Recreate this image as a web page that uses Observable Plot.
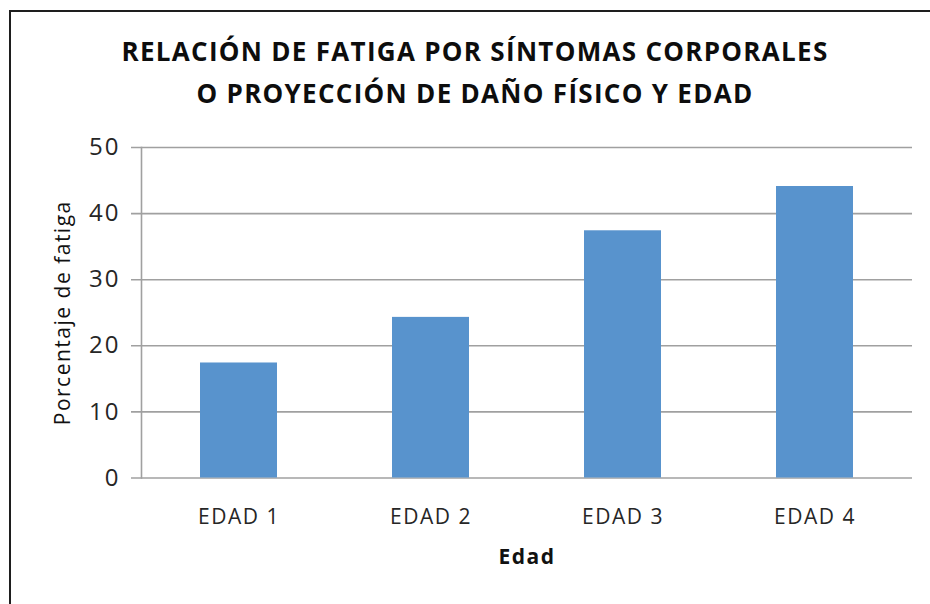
<!DOCTYPE html>
<html>
<head>
<meta charset="utf-8">
<script src="https://cdn.jsdelivr.net/npm/d3@7"></script>
<script src="https://cdn.jsdelivr.net/npm/@observablehq/plot@0.6"></script>
<style>
  html, body { margin: 0; padding: 0; background: #fff; }
  #wrap { position: relative; width: 930px; height: 604px; overflow: hidden; background: #fff; }
  #border { position: absolute; left: 9px; top: 10px; width: 1000px; height: 1000px;
            border-top: 2px solid #1e1e1e; border-left: 2px solid #1e1e1e; pointer-events: none; }
  #title { position: relative; box-sizing: border-box; width: 930px; height: 130px;
           padding-top: 30px; padding-left: 20px; text-align: center;
           font-family: "Open Sans", sans-serif; font-weight: bold; font-size: 26px;
           line-height: 42px; letter-spacing: 1.3px; color: #0d0d0d; }
  #chart svg { display: block; }
  #chart g[aria-label="y-axis tick label"] text { letter-spacing: 2px; }
</style>
</head>
<body>
<div id="wrap">
  <div id="title">RELACIÓN DE FATIGA POR SÍNTOMAS CORPORALES<br>O PROYECCIÓN DE DAÑO FÍSICO Y EDAD</div>
  <div id="chart"></div>
  <div id="border"></div>
</div>
<script>
const categories = ["EDAD 1", "EDAD 2", "EDAD 3", "EDAD 4"];
const values = [17.4, 24.3, 37.4, 44.1];
const yTicks = [0, 10, 20, 30, 40, 50];
const xTitle = "Edad";
const yTitle = "Porcentaje de fatiga";

const data = categories.map((c, i) => ({cat: c, val: values[i]}));

const chart = Plot.plot({
  width: 930,
  height: 474,
  marginLeft: 141,
  marginRight: 18,
  marginTop: 17,
  marginBottom: 126.5,
  style: {fontFamily: "Open Sans, sans-serif", color: "#262626", background: "white", letterSpacing: "1.5px", overflow: "visible"},
  x: {domain: categories, paddingInner: 0.6, paddingOuter: 0.3, label: null},
  y: {domain: [0, 50], ticks: yTicks, label: null},
  marks: [
    Plot.ruleY(yTicks, {stroke: "#a0a0a0", strokeWidth: 1.6, insetLeft: -10}),
    Plot.frame({anchor: "left", stroke: "#a0a0a0", strokeWidth: 1.6}),
    Plot.barY(data, {x: "cat", y: "val", fill: "#5893cd"}),
    Plot.axisY(yTicks, {tickSize: 0, tickPadding: 21, fontSize: 24, label: null}),
    Plot.axisX({tickSize: 0, tickPadding: 31, fontSize: 21, label: null}),
    Plot.text([xTitle], {text: d => d, frameAnchor: "bottom", dy: 79.5, lineAnchor: "middle", textAnchor: "middle", fontWeight: "bold", fontSize: 21, fill: "#111"}),
    Plot.text([yTitle], {text: d => d, frameAnchor: "left", dx: -78, rotate: -90, textAnchor: "middle", lineAnchor: "middle", fontSize: 21, fill: "#111"})
  ]
});
document.getElementById("chart").appendChild(chart);
</script>
</body>
</html>
